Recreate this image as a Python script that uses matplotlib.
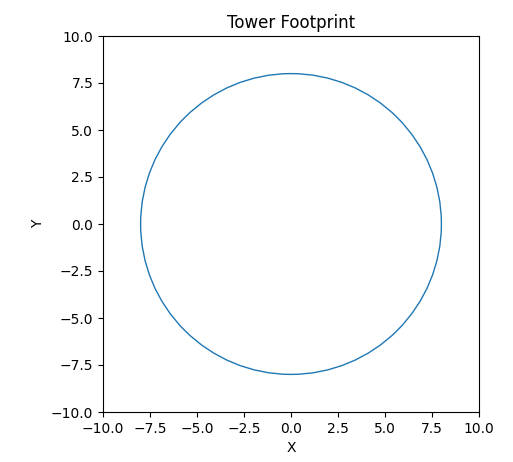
import matplotlib
matplotlib.use("Agg")
import matplotlib.pyplot as plt
import numpy as np

center = (0.0, 0.0)
radius = 8.0
xlim = [-10, 10]
ylim = [-10, 10]
title = "Tower Footprint"

fig = plt.figure(figsize=(5.13, 4.62), dpi=100)
ax = fig.add_axes([103/513, 50/462, 376/513, 376/462])
circle = plt.Circle(center, radius, fill=False, color="C0", linewidth=1.0)
ax.add_patch(circle)
ax.set_xlim(xlim)
ax.set_ylim(ylim)
ax.set_aspect("equal")
ax.set_title(title)
ax.set_xlabel("X")
ax.set_ylabel("Y")
fig.savefig("out.png", dpi=100)
